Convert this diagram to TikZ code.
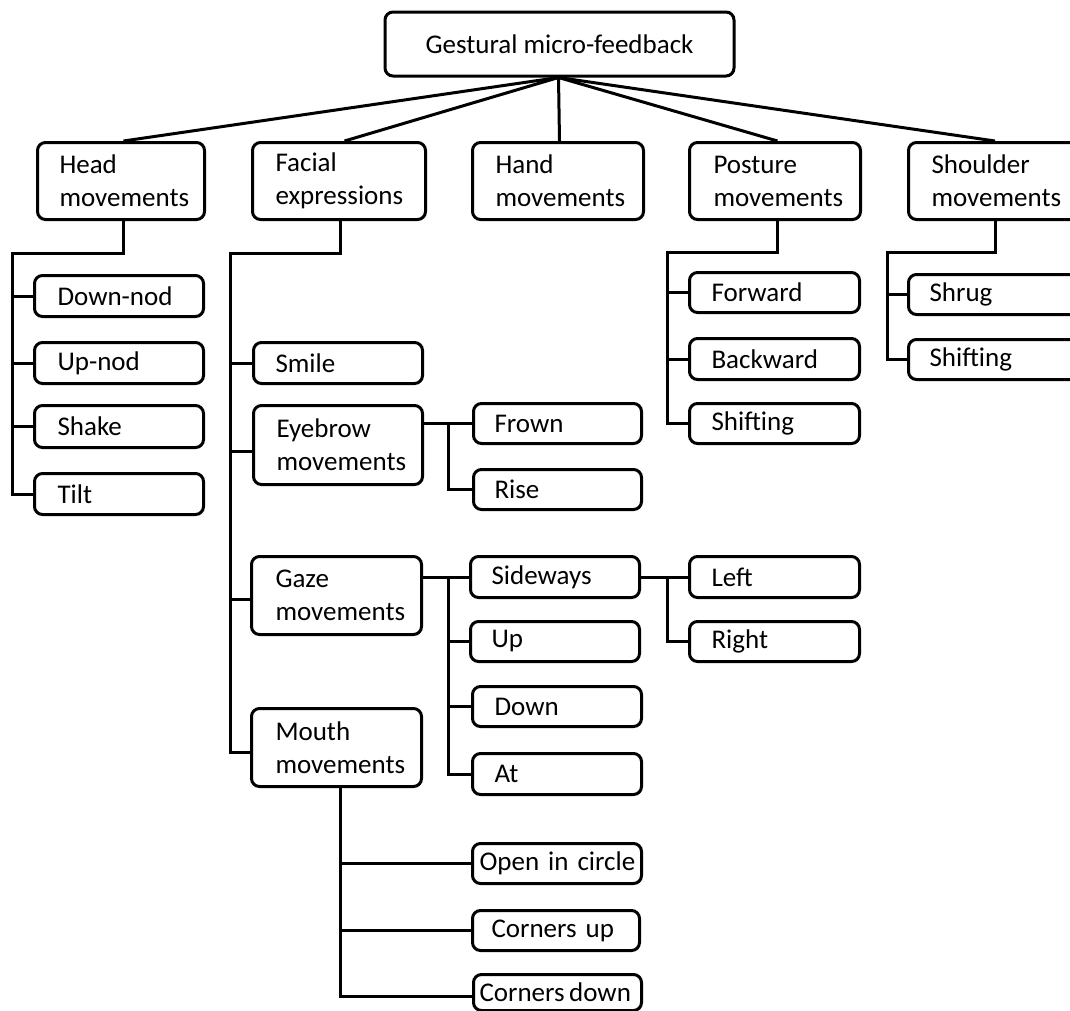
\documentclass[tikz,border=0pt]{standalone}
\usepackage{fontspec}
\setmainfont{Carlito}
\tikzset{
  bx/.style={draw, line width=3pt, rounded corners=8pt, anchor=north west,
    inner ysep=0pt, align=left, font=\fontsize{27}{33}\selectfont},
  conn/.style={line width=3pt},
}
\newcommand\mybox[7]{%
  \pgfmathsetmacro\bw{#4-#2}\pgfmathsetmacro\bh{#5-#3}\pgfmathsetmacro\tw{#4-#2-2*#6}%
  \node[bx, inner xsep=#6pt, text width=\tw pt, minimum width=\bw pt, minimum height=\bh pt] (#1) at (#2,#3) {#7};}
\begin{document}
\begin{tikzpicture}[x=1pt,y=-1pt]
\useasboundingbox (0,0) rectangle (1070,1010);
\clip (0,0) rectangle (1070,1010);
\fill[white] (0,0) rectangle (1070,1010);
% root
\node[bx, anchor=center, align=center, inner xsep=4pt, minimum width=349pt, minimum height=64pt] (root) at (559.5,44) {Gestural micro-feedback};
% level 1
\mybox{head}{36}{141}{203}{218}{22}{Head\\movements}
\mybox{facial}{251}{141}{424}{218}{23}{Facial\\expressions}
\mybox{hand}{471}{141}{642}{218}{23}{Hand\\movements}
\mybox{posture}{688}{141}{859}{218}{24}{Posture\\movements}
\mybox{shoulder}{907}{141}{1080}{218}{23}{Shoulder\\movements}
% head children
\mybox{downnod}{33}{274}{202}{315}{23}{Down-nod}
\mybox{upnod}{33}{341}{202}{382}{23}{Up-nod}
\mybox{shake}{33}{404}{202}{446}{23}{Shake}
\mybox{tilt}{33}{472}{202}{513}{23}{Tilt}
% facial children
\mybox{smile}{252}{341}{421}{382}{22}{Smile}
\mybox{eyebrow}{252}{404}{421}{483}{23}{Eyebrow\\movements}
\mybox{gaze}{250}{555}{420}{633}{24}{Gaze\\movements}
\mybox{mouth}{250}{707}{420}{785}{24}{Mouth\\movements}
% eyebrow children
\mybox{frown}{472}{402}{640}{442}{21}{Frown}
\mybox{rise}{472}{468}{640}{508}{21}{Rise}
% gaze children
\mybox{sideways}{469}{555}{638}{596}{21}{Sideways}
\mybox{up}{469}{620}{638}{660}{21}{Up}
\mybox{down}{471}{685}{640}{725}{22}{Down}
\mybox{at}{471}{752}{640}{793}{22}{At}
\mybox{left}{688}{555}{858}{596}{22}{Left}
\mybox{right}{688}{620}{858}{660}{22}{Right}
% mouth children
\mybox{open}{471}{842}{640}{882}{7}{\mbox{Open in circle}}
\mybox{cornersup}{471}{909}{638}{949}{19}{\mbox{Corners up}}
\mybox{cornersdown}{472}{973}{640}{1009}{6}{\mbox{Corners\,down}}
% posture children
\mybox{forward}{688}{271}{858}{311}{22}{Forward}
\mybox{backward}{688}{337}{858}{378}{22}{Backward}
\mybox{pshift}{688}{402}{858}{442}{22}{Shifting}
% shoulder children
\mybox{shrug}{907}{273}{1078}{313}{21}{Shrug}
\mybox{sshift}{907}{338}{1078}{378}{21}{Shifting}
% connectors from root
\draw[conn] ([xshift=-1pt]root.south) -- ([xshift=2.5pt]head.north);
\draw[conn] ([xshift=-1pt]root.south) -- ([xshift=5.5pt]facial.north);
\draw[conn] ([xshift=-1pt]root.south) -- ([xshift=1.5pt]hand.north);
\draw[conn] ([xshift=-1pt]root.south) -- ([xshift=2.5pt]posture.north);
\draw[conn] ([xshift=-1pt]root.south) -- (shoulder.north);
% head
\coordinate (hT) at (12,253);
\draw[conn] ([xshift=2.5pt]head.south) |- (hT) |- (tilt.west);
\draw[conn] (hT |- downnod.west) -- (downnod.west);
\draw[conn] (hT |- upnod.west) -- (upnod.west);
\draw[conn] (hT |- shake.west) -- (shake.west);
% facial
\coordinate (fT) at (230,253);
\draw[conn] ([xshift=1.5pt]facial.south) |- (fT) |- ([yshift=-5pt]mouth.west);
\draw[conn] (fT |- smile.west) -- (smile.west);
\coordinate (ebL) at ([yshift=-6.5pt]eyebrow.west);
\draw[conn] (fT |- ebL) -- (ebL);
\coordinate (gzL) at ([yshift=-4pt]gaze.west);
\draw[conn] (fT |- gzL) -- (gzL);
% eyebrow
\draw[conn] (eyebrow.east |- frown.west) -- (frown.west);
\draw[conn] (frown.west) ++(-24,0) |- (rise.west);
% gaze
\draw[conn] (gaze.east |- sideways.west) -- (sideways.west);
\coordinate (gT) at (448,577);
\draw[conn] (gT) |- (at.west);
\draw[conn] (gT |- up.west) -- (up.west);
\draw[conn] (gT |- down.west) -- (down.west);
% sideways
\draw[conn] (sideways.east) -- (left.west);
\draw[conn] (left.west) ++(-21,0) |- (right.west);
% mouth
\coordinate (mT) at ([xshift=4pt]mouth.south);
\draw[conn] (mT) |- ([yshift=-4pt]cornersdown.west);
\draw[conn] (mT |- open.west) -- (open.west);
\draw[conn] (mT |- cornersup.west) -- (cornersup.west);
% posture
\coordinate (pT) at (667,252);
\draw[conn] ([xshift=2.5pt]posture.south) |- (pT) |- (pshift.west);
\draw[conn] (pT |- forward.west) -- (forward.west);
\draw[conn] (pT |- backward.west) -- (backward.west);
% shoulder
\coordinate (sT) at (887,252);
\draw[conn] (shoulder.south) |- (sT) |- (sshift.west);
\draw[conn] (sT |- shrug.west) -- (shrug.west);
\end{tikzpicture}
\end{document}
